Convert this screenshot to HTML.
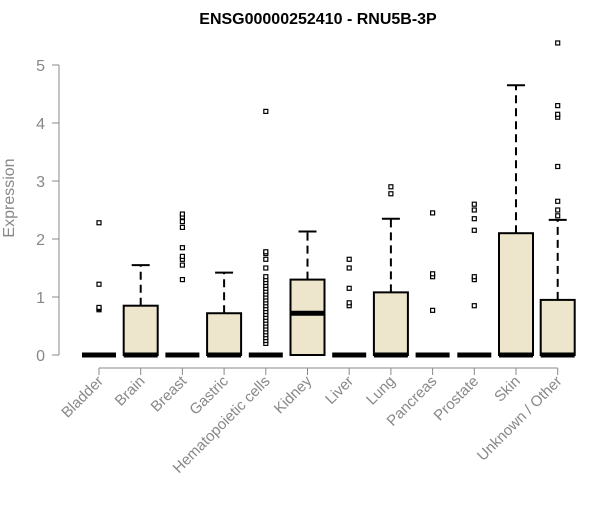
<!DOCTYPE html>
<html><head><meta charset="utf-8"><style>
body{margin:0;background:#fff;font-family:"Liberation Sans",Arial,sans-serif}
svg text{font-family:"Liberation Sans",Arial,sans-serif}
</style></head><body>
<svg id="chart" width="600" height="500" xmlns="http://www.w3.org/2000/svg">
<text x="318" y="24" text-anchor="middle" font-size="16" font-weight="bold">ENSG00000252410 - RNU5B-3P</text>
<text transform="translate(14,198) rotate(-90)" text-anchor="middle" font-size="16" fill="#888">Expression</text>
<g id="axes"></g><g id="boxes"></g>
</svg>
<script>
const categories=["Bladder","Brain","Breast","Gastric","Hematopoietic cells","Kidney","Liver","Lung","Pancreas","Prostate","Skin","Unknown / Other"];
const q1=[0,0,0,0,0,0,0,0,0,0,0,0];
const medians=[0,0,0,0,0,0.72,0,0,0,0,0,0];
const q3=[0,0.85,0,0.72,0,1.3,0,1.08,0,0,2.1,0.95];
const whiskerHigh=[0,1.55,0,1.42,0,2.13,0,2.35,0,0,4.65,2.33];
const outliers=[[0.78,0.8,0.82,1.22,2.28],[],[1.3,1.55,1.65,1.7,1.85,2.2,2.3,2.38,2.43],[],
[0.2,0.25,0.3,0.35,0.4,0.45,0.5,0.55,0.6,0.65,0.7,0.75,0.8,0.85,0.9,0.95,1.0,1.05,1.1,1.15,1.2,1.25,1.3,1.35,1.5,1.65,1.75,1.78,4.2],
[],[0.85,0.9,1.15,1.5,1.65],[2.78,2.9],[0.77,1.35,1.4,2.45],[0.85,1.3,1.35,2.15,2.35,2.5,2.6],[],[2.4,2.5,2.65,3.25,4.1,4.15,4.3,5.38]];
const yTicks=[0,1,2,3,4,5];
const NS="http://www.w3.org/2000/svg";
const y=v=>355-v*58, x=i=>99+i*41.7;
const ax=document.getElementById('axes'), bx=document.getElementById('boxes');
function mk(p,tag,a){const e=document.createElementNS(NS,tag);for(const k in a)e.setAttribute(k,a[k]);p.appendChild(e);return e;}
let e=mk(ax,'line',{x1:59,x2:59,y1:y(0),y2:y(5),stroke:'#888'});


yTicks.forEach(t=>{
 let l=mk(ax,'line',{x1:52,x2:59,y1:y(t),y2:y(t),stroke:'#888'});
 
 
 let tx=mk(ax,'text',{x:45,y:y(t)+6,'text-anchor':'end','font-size':16,fill:'#888'});tx.textContent=t;
 
 
});
e=mk(ax,'line',{x1:x(0),x2:x(11),y1:368,y2:368,stroke:'#888'});


categories.forEach((c,i)=>{
 let l=mk(ax,'line',{x1:x(i),x2:x(i),y1:368,y2:375,stroke:'#888'});
 
 
 let tx=mk(ax,'text',{transform:`translate(${x(i)+5},${382}) rotate(-45)`,'text-anchor':'end','font-size':15,fill:'#888'});tx.textContent=c;
 
 
 const g=mk(bx,'g',{});
 
 
 const cx=x(i),hw=17;
 if(whiskerHigh[i]>q3[i]){
  mk(g,'line',{x1:cx,x2:cx,y1:y(q3[i]),y2:y(whiskerHigh[i]),stroke:'#000','stroke-width':2,'stroke-dasharray':'8,5'});
  mk(g,'line',{x1:cx-9,x2:cx+9,y1:y(whiskerHigh[i]),y2:y(whiskerHigh[i]),stroke:'#000','stroke-width':2});
 }
 if(q3[i]>q1[i]) mk(g,'rect',{x:cx-hw,y:y(q3[i]),width:hw*2,height:y(q1[i])-y(q3[i]),fill:'#ede6cd',stroke:'#000','stroke-width':2});
 mk(g,'line',{x1:cx-hw,x2:cx+hw,y1:y(medians[i]),y2:y(medians[i]),stroke:'#000','stroke-width':5});
 outliers[i].forEach(v=>{mk(g,'rect',{x:cx-2,y:y(v)-2,width:4,height:4,fill:'#fff',stroke:'#000','stroke-width':1.2});});
});
</script>
</body></html>
